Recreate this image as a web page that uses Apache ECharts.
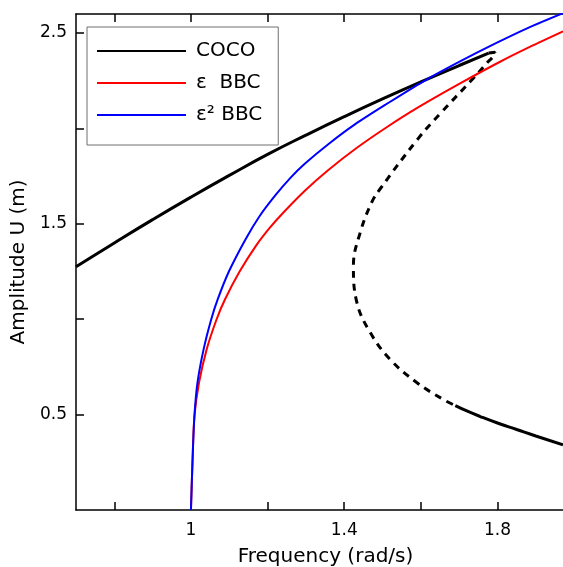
<!DOCTYPE html>
<html>
<head>
<meta charset="utf-8">
<script src="https://cdn.jsdelivr.net/npm/echarts@6/dist/echarts.min.js"></script>
<style>
  html, body { margin: 0; padding: 0; background: #fff; }
  #chart { width: 563px; height: 567px; }
</style>
</head>
<body>
<div id="chart"></div>
<script>
// COCO backbone, stable upper branch
const cocoUpperFreq = [0.70, 0.80, 0.90, 1.00, 1.10, 1.20, 1.30, 1.40, 1.50, 1.60, 1.70, 1.777];
const cocoUpperAmp  = [1.275, 1.40, 1.522, 1.64, 1.754, 1.864, 1.965, 2.062, 2.155, 2.244, 2.33, 2.395];
// COCO unstable branch (dashed)
const cocoDashFreq = [1.777, 1.794, 1.788, 1.776, 1.737, 1.651, 1.593, 1.494, 1.472, 1.442, 1.424, 1.433, 1.468, 1.52, 1.59, 1.659, 1.69];
const cocoDashAmp  = [2.395, 2.40, 2.375, 2.351, 2.263, 2.079, 1.947, 1.684, 1.614, 1.456, 1.281, 1.088, 0.93, 0.789, 0.667, 0.579, 0.547];
// COCO stable lower branch
const cocoLowerFreq = [1.69, 1.72, 1.755, 1.80, 1.85, 1.90, 1.971];
const cocoLowerAmp  = [0.547, 0.519, 0.49, 0.456, 0.422, 0.388, 0.342];
// epsilon BBC
const bbc1Freq = [1.0, 1.004, 1.009, 1.021, 1.041, 1.067, 1.089, 1.127, 1.17, 1.206, 1.242, 1.298, 1.357, 1.434, 1.506, 1.596, 1.706, 1.808, 1.887, 1.971];
const bbc1Amp  = [0, 0.25, 0.49, 0.667, 0.842, 1.0, 1.105, 1.25, 1.386, 1.48, 1.561, 1.675, 1.78, 1.90, 2.0, 2.114, 2.24, 2.351, 2.43, 2.509];
// epsilon^2 BBC
const bbc2Freq = [1.0, 1.004, 1.009, 1.017, 1.033, 1.053, 1.070, 1.099, 1.143, 1.179, 1.22, 1.259, 1.297, 1.36, 1.427, 1.512, 1.606, 1.701, 1.796, 1.883, 1.972];
const bbc2Amp  = [0, 0.25, 0.49, 0.667, 0.842, 1.0, 1.105, 1.25, 1.421, 1.54, 1.649, 1.74, 1.815, 1.92, 2.02, 2.13, 2.246, 2.35, 2.447, 2.53, 2.605];

const xTicks = [0.8, 1, 1.2, 1.4, 1.6, 1.8];
const xLabels = [1, 1.4, 1.8];
const yTicks = [0.5, 1, 1.5, 2, 2.5];
const yLabels = [0.5, 1.5, 2.5];

function zip(xs, ys) {
  return xs.map((x, i) => [x, ys[i]]);
}

const font = 'DejaVu Sans';
const chart = echarts.init(document.getElementById('chart'));

const axisLine = { show: true, onZero: false, lineStyle: { color: '#000', width: 1.5 } };

chart.setOption({
  animation: false,
  grid: { left: 76, right: 0, top: 14, bottom: 57, containLabel: false, outerBoundsMode: 'none' },
  legend: {
    orient: 'vertical',
    left: 87,
    top: 27,
    padding: [13, 16, 19, 9],
    itemWidth: 89,
    itemHeight: 22,
    itemGap: 10,
    borderColor: '#6e6e6e',
    borderWidth: 1,
    backgroundColor: '#fff',
    selectedMode: false,
    itemStyle: { opacity: 0 },
    textStyle: { fontFamily: font, fontSize: 20, color: '#000', lineHeight: 22, padding: [0, 0, 0, 5] },
    data: ['COCO', 'ε  BBC', 'ε² BBC']
  },
  xAxis: [
    {
      type: 'value',
      min: 0.7,
      max: 1.971,
      name: 'Frequency (rad/s)',
      nameLocation: 'middle',
      nameGap: 37,
      nameTextStyle: { fontFamily: font, fontSize: 20, color: '#000', padding: [0, 0, 0, 12] },
      axisLine: axisLine,
      axisTick: { show: true, inside: true, length: 8, customValues: xTicks, lineStyle: { color: '#000', width: 1.5 } },
      axisLabel: { customValues: xLabels, fontFamily: font, fontSize: 17, color: '#000', margin: 12 },
      splitLine: { show: false }
    },
    {
      type: 'value',
      position: 'top',
      min: 0.7,
      max: 1.971,
      axisLine: axisLine,
      axisTick: { show: true, inside: true, length: 8, customValues: xTicks, lineStyle: { color: '#000', width: 1.5 } },
      axisLabel: { show: false },
      splitLine: { show: false }
    }
  ],
  yAxis: {
    type: 'value',
    min: 0,
    max: 2.6,
    name: 'Amplitude U (m)',
    nameLocation: 'middle',
    nameGap: 40,
    nameTextStyle: { fontFamily: font, fontSize: 20, color: '#000' },
    axisLine: axisLine,
    axisTick: { show: true, inside: true, length: 8, customValues: yTicks, lineStyle: { color: '#000', width: 1.5 } },
    axisLabel: {
      customValues: yLabels,
      fontFamily: font, fontSize: 17, color: '#000', margin: 9,
      formatter: v => v.toFixed(1)
    },
    splitLine: { show: false }
  },
  series: [
    {
      name: 'COCO', type: 'line', symbol: 'none', smooth: true,
      lineStyle: { color: '#000', width: 3 }, itemStyle: { color: '#000' },
      data: zip(cocoUpperFreq, cocoUpperAmp)
    },
    {
      name: 'COCO', type: 'line', symbol: 'none', smooth: 0.4,
      lineStyle: { color: '#000', width: 3, type: [7, 6] }, itemStyle: { color: '#000' },
      data: zip(cocoDashFreq, cocoDashAmp)
    },
    {
      name: 'COCO', type: 'line', symbol: 'none', smooth: true,
      lineStyle: { color: '#000', width: 3 }, itemStyle: { color: '#000' },
      data: zip(cocoLowerFreq, cocoLowerAmp)
    },
    {
      name: 'ε  BBC', type: 'line', symbol: 'none', smooth: 0.3,
      lineStyle: { color: '#ff0000', width: 2 }, itemStyle: { color: '#ff0000' },
      data: zip(bbc1Freq, bbc1Amp)
    },
    {
      name: 'ε² BBC', type: 'line', symbol: 'none', smooth: 0.3,
      lineStyle: { color: '#0000ff', width: 2 }, itemStyle: { color: '#0000ff' },
      data: zip(bbc2Freq, bbc2Amp)
    }
  ]
});

window.addEventListener('resize', () => chart.resize());
</script>
</body>
</html>
